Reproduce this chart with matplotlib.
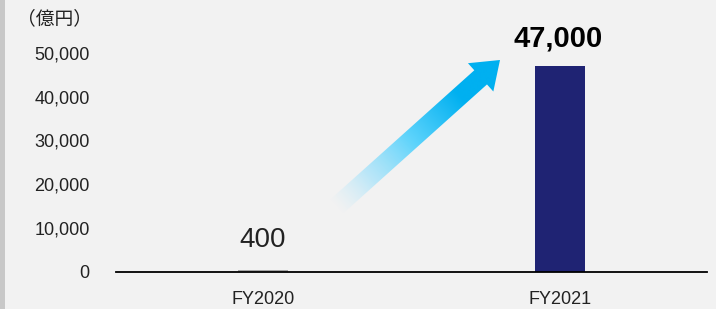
import numpy as np
import matplotlib
matplotlib.use("Agg")
import matplotlib.pyplot as plt
from matplotlib.patches import Polygon, Rectangle

# データ
categories = ["FY2020", "FY2021"]
values = [400, 47000]
value_labels = ["400", "47,000"]
bar_colors = ["#a6a6a6", "#1f2373"]
yticks = [0, 10000, 20000, 30000, 40000, 50000]
ytick_labels = ["0", "10,000", "20,000", "30,000", "40,000", "50,000"]
unit_label = "（億円）"

plt.rcParams["font.family"] = ["Liberation Sans", "Noto Sans CJK JP", "DejaVu Sans"]

W, H = 716, 309
fig = plt.figure(figsize=(W / 100, H / 100), dpi=100, facecolor="#f2f2f2")
fig.patches.append(Rectangle((0, 0), 5 / W, 1, transform=fig.transFigure,
                             facecolor="#c8c8c8", edgecolor="none"))

ax = fig.add_axes([116 / W, 37.5 / H, 591 / W, 262.3 / H])
ax.set_facecolor("none")
x = np.arange(len(categories))
ax.bar(x, values, width=0.168, color=bar_colors, zorder=2)
ax.set_xlim(-0.495, 1.495)
ax.set_ylim(0, 60000)

for s in ["top", "right", "left"]:
    ax.spines[s].set_visible(False)
ax.spines["bottom"].set_color("black")
ax.spines["bottom"].set_linewidth(1.3)
ax.spines["bottom"].set_zorder(3)

ax.set_xticks(x)
ax.set_xticklabels(categories, fontsize=13, color="#222222")
ax.set_yticks(yticks)
ax.set_yticklabels(ytick_labels, fontsize=13, color="#222222")
ax.tick_params(axis="x", length=0, pad=14)
ax.tick_params(axis="y", length=0, pad=19)

# 値ラベル
ax.text(x[0], values[0] + 6700, value_labels[0], ha="center", va="center",
        fontsize=20, color="#222222")
ax.text(x[1] - 0.005, values[1] + 6400, value_labels[1], ha="center", va="center",
        fontsize=21, fontweight="bold", color="black")

fig.text(92 / W, 1 - 19 / H, unit_label, ha="right", va="center", fontsize=13.5,
         family=["Noto Sans CJK JP", "DejaVu Sans"], color="#222222")

# グラデーションの矢印
tail = ax.transData.transform((0.246, 14750))
tip = ax.transData.transform((0.798, 48380))
ov = fig.add_axes([0, 0, 1, 1], zorder=5)
ov.axis("off")
ov.patch.set_alpha(0)

d = tip - tail
L = np.hypot(*d)
u = d / L
n = np.array([-u[1], u[0]])
sw, hw, hl = 19, 38, 26
base = tip - u * hl
pts = [tail + n * sw / 2, base + n * sw / 2, base + n * hw / 2, tip,
       base - n * hw / 2, base - n * sw / 2, tail - n * sw / 2]
poly = Polygon(pts, closed=True, facecolor="none", edgecolor="none")
ov.add_patch(poly)

pts = np.array(pts)
x0, y0 = pts.min(axis=0) - 2
x1, y1 = pts.max(axis=0) + 2
gx, gy = np.meshgrid(np.arange(x0, x1, 0.5), np.arange(y0, y1, 0.5))
t = np.clip(((gx - tail[0]) * u[0] + (gy - tail[1]) * u[1]) / L, 0, 1)
stops = [0.0, 0.2, 0.45, 0.75, 1.0]
r = np.interp(t, stops, [200, 170, 95, 0, 0]) / 255
g = np.interp(t, stops, [235, 228, 212, 176, 176]) / 255
b = np.interp(t, stops, [250, 250, 252, 240, 240]) / 255
a = np.interp(t, stops, [0.0, 0.75, 1, 1, 1])
img = np.dstack([r, g, b, a])
im = ov.imshow(img, extent=[x0, x1, y0, y1], origin="lower", interpolation="bilinear", aspect="auto")
im.set_clip_path(poly)
ov.set_xlim(0, W)
ov.set_ylim(0, H)

fig.savefig("out.png", dpi=100, facecolor=fig.get_facecolor())
